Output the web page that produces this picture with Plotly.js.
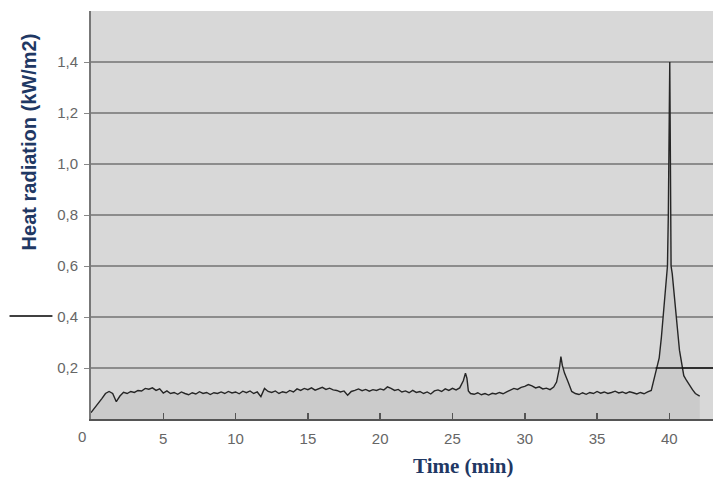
<!DOCTYPE html>
<html>
<head>
<meta charset="utf-8">
<script src="https://cdn.plot.ly/plotly-3.0.1.min.js"></script>
<style>
html,body{margin:0;padding:0;background:#fff;}
#chart{width:713px;height:478px;}
</style>
</head>
<body>
<div id="chart"></div>
<script>
// Time (min)
const timeMin = [
0,0.25,0.5,0.75,1.0,1.25,1.5,1.75,2.0,2.25,2.5,2.75,3.0,3.25,3.5,3.75,4.0,4.25,4.5,4.75,
5.0,5.25,5.5,5.75,6.0,6.25,6.5,6.75,7.0,7.25,7.5,7.75,8.0,8.25,8.5,8.75,9.0,9.25,9.5,9.75,
10.0,10.25,10.5,10.75,11.0,11.25,11.5,11.75,12.0,12.25,12.5,12.75,13.0,13.25,13.5,13.75,14.0,14.25,14.5,14.75,
15.0,15.25,15.5,15.75,16.0,16.25,16.5,16.75,17.0,17.25,17.5,17.75,18.0,18.25,18.5,18.75,19.0,19.25,19.5,19.75,
20.0,20.25,20.5,20.75,21.0,21.25,21.5,21.75,22.0,22.25,22.5,22.75,23.0,23.25,23.5,23.75,24.0,24.25,24.5,24.75,
25.0,25.25,25.5,25.75,25.9,26.0,26.1,26.25,26.5,26.75,27.0,27.25,27.5,27.75,28.0,28.25,28.5,28.75,
29.0,29.25,29.5,29.75,30.0,30.25,30.5,30.75,31.0,31.25,31.5,31.75,32.0,32.2,32.4,32.5,32.6,32.75,
33.0,33.25,33.5,33.75,34.0,34.25,34.5,34.75,35.0,35.25,35.5,35.75,36.0,36.25,36.5,36.75,37.0,37.25,37.5,37.75,
38.0,38.25,38.5,38.75,39.0,39.15,39.3,39.45,39.6,39.7,39.8,39.87,39.93,39.98,40.03,40.07,40.12,40.2,40.3,40.4,
40.55,40.7,40.85,41.0,41.2,41.4,41.6,41.8,42.0,42.1
];
// Heat radiation (kW/m2)
const heatRadiation = [
0.025,0.045,0.065,0.08,0.1,0.108,0.1,0.068,0.09,0.105,0.1,0.108,0.104,0.112,0.11,0.12,0.117,0.122,0.112,0.118,
0.102,0.11,0.1,0.104,0.097,0.106,0.1,0.095,0.103,0.098,0.107,0.1,0.104,0.096,0.103,0.1,0.106,0.1,0.108,0.102,
0.106,0.099,0.109,0.103,0.11,0.1,0.106,0.088,0.12,0.108,0.104,0.11,0.1,0.107,0.103,0.112,0.106,0.118,0.112,0.12,
0.115,0.122,0.113,0.118,0.124,0.116,0.121,0.114,0.112,0.106,0.11,0.093,0.108,0.112,0.118,0.111,0.116,0.109,0.115,0.112,
0.118,0.114,0.126,0.12,0.112,0.116,0.106,0.11,0.103,0.112,0.104,0.108,0.1,0.106,0.098,0.11,0.114,0.108,0.118,0.112,
0.12,0.114,0.122,0.15,0.18,0.16,0.11,0.1,0.097,0.103,0.095,0.1,0.094,0.101,0.098,0.104,0.099,0.106,
0.112,0.12,0.116,0.124,0.128,0.135,0.13,0.122,0.126,0.118,0.121,0.115,0.125,0.145,0.2,0.245,0.21,0.18,
0.145,0.108,0.1,0.096,0.103,0.097,0.104,0.1,0.108,0.101,0.106,0.1,0.104,0.109,0.102,0.106,0.1,0.107,0.103,0.098,
0.104,0.099,0.106,0.112,0.17,0.2,0.24,0.32,0.42,0.46,0.55,0.6,0.8,1.3,1.4,1.05,0.6,0.57,0.5,0.45,
0.36,0.27,0.21,0.17,0.15,0.13,0.115,0.1,0.092,0.09
];
const xTickVals = [5,10,15,20,25,30,35,40];
const xTickText = ['5','10','15','20','25','30','35','40'];
const yTickVals = [0.2,0.4,0.6,0.8,1.0,1.2,1.4];
const yTickText = ['0,2','0,4','0,6','0,8','1,0','1,2','1,4'];

const tickFont = {family:'Liberation Sans, Arial, sans-serif', size:15, color:'#666666'};
const navy = '#1f3864';

const trace = {
  x: timeMin, y: heatRadiation, type:'scatter', mode:'lines',
  line:{color:'#262626', width:1.4},
  fill:'tozeroy', fillcolor:'#cbcbcb',
  hoverinfo:'skip', showlegend:false
};

const layout = {
  width:713, height:478,
  margin:{l:91, r:0, t:11, b:59},
  paper_bgcolor:'#ffffff', plot_bgcolor:'#d8d8d8',
  showlegend:false,
  xaxis:{
    range:[0,43.02], tickvals:xTickVals, ticktext:xTickText,
    ticks:'inside', ticklen:6, tickwidth:1.5, tickcolor:'#555555',
    showgrid:false, zeroline:false,
    showline:true, linecolor:'#555555', linewidth:2,
    tickfont:tickFont, ticklabelstandoff:5
  },
  yaxis:{
    range:[0,1.6], tickvals:yTickVals, ticktext:yTickText,
    ticks:'outside', ticklen:5, tickwidth:1, tickcolor:'#888888',
    showgrid:true, gridcolor:'#8c8c8c', gridwidth:1.5, zeroline:false,
    showline:true, linecolor:'#777777', linewidth:2,
    tickfont:tickFont, ticklabelstandoff:3
  },
  shapes:[
    {type:'line', xref:'x', yref:'y', x0:39.05, x1:43.02, y0:0.2, y1:0.2,
     line:{color:'#111111', width:1.5}},
    {type:'line', xref:'paper', yref:'y', x0:-0.131, x1:-0.062, y0:0.404, y1:0.404,
     line:{color:'#000000', width:1.5}}
  ],
  annotations:[
    {text:'0', xref:'paper', yref:'paper', x:-0.014, y:-0.044, showarrow:false,
     xanchor:'center', yanchor:'middle', font:tickFont},
    {text:'<b>Heat radiation (kW/m2)</b>', xref:'paper', yref:'paper', x:-0.099, y:0.679,
     textangle:-90, showarrow:false, xanchor:'center', yanchor:'middle',
     font:{family:'Liberation Sans, Arial, sans-serif', size:20, color:navy}},
    {text:'<b>Time (min)</b>', xref:'paper', yref:'paper', x:0.5986, y:-0.115,
     showarrow:false, xanchor:'center', yanchor:'middle',
     font:{family:'Liberation Serif, Times New Roman, serif', size:21, color:navy}}
  ]
};

Plotly.newPlot('chart', [trace], layout, {displayModeBar:false, staticPlot:true});
</script>
</body>
</html>
